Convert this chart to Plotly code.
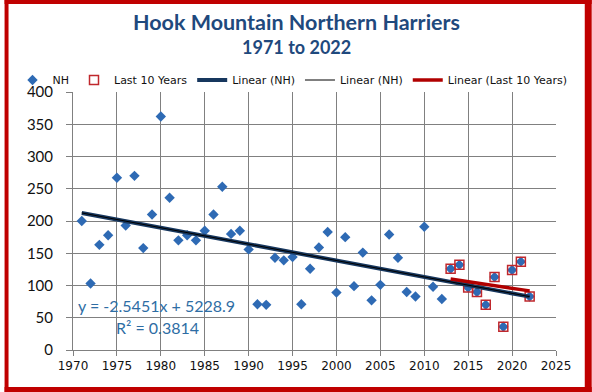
import numpy as np
import plotly.graph_objects as go

# ---- data ----
years = list(range(1971, 2023))
nh = [200, 103, 163, 178, 267, 193, 270, 158, 210, 362,
      236, 170, 178, 170, 185, 210, 253, 180, 185, 156,
      71, 70, 143, 139, 144, 71, 126, 159, 183, 89,
      175, 99, 151, 77, 101, 179, 143, 90, 83, 191,
      98, 79, 126, 132, 97, 90, 70, 113, 36, 124,
      137, 83]
last10_years = years[-10:]
last10_vals = nh[-10:]

# trend line coefficients as printed on the chart
SLOPE = -2.5451
INTERCEPT = 5228.9
R2 = 0.3814

x_ticks = list(range(1970, 2026, 5))
y_ticks = list(range(0, 401, 50))

# ---- layout geometry ----
W, H = 592, 392
L, R, T, B = 69, 36, 92, 42
PW, PH = W - L - R, H - T - B

def px(x):
    return (x - L) / PW

def py(y):
    return (H - B - y) / PH

NAVY = "#1F497D"
BLUE = "#2E6AB4"
RED = "#C00000"
GRID = "#808080"

fig = go.Figure()

fig.add_trace(go.Scatter(
    x=years, y=nh, mode="markers", name="NH",
    marker=dict(symbol="diamond", size=8, color=BLUE, line=dict(width=0)),
))
fig.add_trace(go.Scatter(
    x=last10_years, y=last10_vals, mode="markers", name="Last 10 Years",
    marker=dict(symbol="square-open", size=9, color="#C0282D", line=dict(width=1.5)),
))

xa = np.array([years[0], years[-1]], dtype=float)
fig.add_trace(go.Scatter(
    x=xa, y=SLOPE * xa + INTERCEPT, mode="lines", name="Linear (NH)",
    line=dict(color="#17375E", width=4),
))
fig.add_trace(go.Scatter(
    x=xa, y=SLOPE * xa + INTERCEPT, mode="lines", name="Linear (NH)",
    line=dict(color="black", width=1),
))
s10, i10 = np.polyfit(last10_years, last10_vals, 1)
xb = np.array([last10_years[0], last10_years[-1]], dtype=float)
fig.add_trace(go.Scatter(
    x=xb, y=s10 * xb + i10, mode="lines", name="Linear (Last 10 Years)",
    line=dict(color="#B00000", width=3.5),
))

annotations = [
    dict(text="<b>Hook Mountain Northern Harriers</b>", x=px(294), y=py(22),
         font=dict(family="Lato", size=21.5, color=NAVY)),
    dict(text="<b>1971 to 2022</b>", x=px(294), y=py(47),
         font=dict(family="Lato", size=18, color=NAVY)),
    dict(text=f"y = {SLOPE}x + {INTERCEPT}", x=px(153), y=py(305),
         font=dict(family="Lato", size=16, color="#2E6DA4")),
    dict(text=f"R² = {R2}", x=px(154), y=py(327),
         font=dict(family="Lato", size=16, color="#2E6DA4")),
]
for a in annotations:
    a.update(xref="paper", yref="paper", showarrow=False, xanchor="center", yanchor="middle")

shapes = []
for (x0, y0, x1, y1) in [(0, 0, 4, H), (0, 0, W, 4), (W - 7, 0, W, H), (0, H - 5, W, H)]:
    shapes.append(dict(type="rect", xref="paper", yref="paper",
                       x0=px(x0), x1=px(x1), y0=py(y0), y1=py(y1),
                       fillcolor=RED, line=dict(width=0), layer="above"))

fig.update_layout(
    width=W, height=H,
    margin=dict(l=L, r=R, t=T, b=B),
    paper_bgcolor="white", plot_bgcolor="white",
    showlegend=True,
    legend=dict(orientation="h", x=px(8), y=py(80), xanchor="left", yanchor="middle",
                font=dict(family="DejaVu Sans", size=11, color="#111"),
                itemwidth=30, bgcolor="rgba(0,0,0,0)", tracegroupgap=0),
    annotations=annotations,
    shapes=shapes,
    xaxis=dict(range=[1970, 2025], tickvals=x_ticks, ticktext=[str(v) for v in x_ticks],
               showgrid=True, gridcolor=GRID, gridwidth=1,
               showline=True, linecolor=GRID, linewidth=1, mirror=False,
               ticks="outside", ticklen=5, tickcolor=GRID,
               tickfont=dict(family="DejaVu Sans", size=12, color="#111"),
               zeroline=False, fixedrange=True),
    yaxis=dict(range=[0, 400], tickvals=y_ticks, ticktext=[str(v) for v in y_ticks],
               showgrid=True, gridcolor=GRID, gridwidth=1,
               showline=True, linecolor=GRID, linewidth=1,
               ticks="outside", ticklen=6, tickcolor=GRID,
               ticklabelstandoff=10,
               tickfont=dict(family="Lato", size=15, color="#111"),
               zeroline=False, fixedrange=True),
)

fig.write_html(
    "out.html",
    config={"displayModeBar": False},
    post_script="document.body.style.margin='0';document.body.style.overflow='hidden';",
)
